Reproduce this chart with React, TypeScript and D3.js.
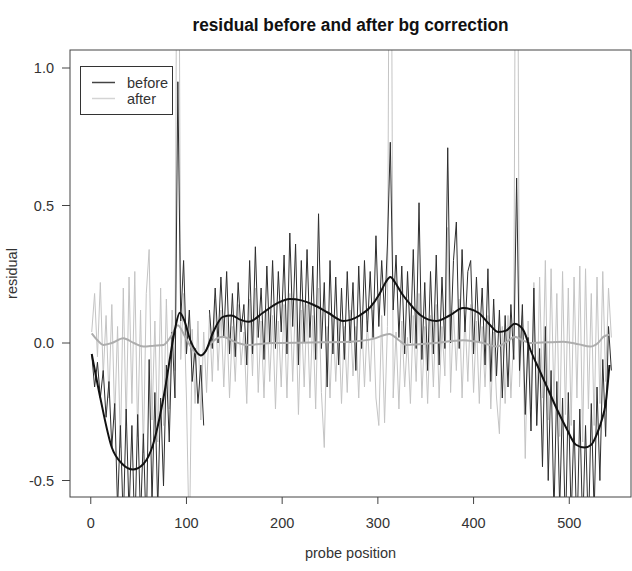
import React from "react";
import * as d3 from "d3";

const W = 632;
const H = 571;

const titleText = "residual before and after bg correction";
const xLabel = "probe position";
const yLabel = "residual";
const xTicks = [0, 100, 200, 300, 400, 500];
const yTicks = [-0.5, 0.0, 0.5, 1.0];
const yTickLabels = ["-0.5", "0.0", "0.5", "1.0"];
const legendLabels = ["before", "after"];

// probe positions sampled every 3rd probe: 1, 4, 7, ... 544
const probeStart = 1;
const probeStep = 3;

const before: (number | null)[] = [
  -0.04, -0.16, -0.07, -0.2, -0.1, -0.27, -0.14, -0.38, -0.22, -0.6,
  -0.3, -0.66, -0.24, -0.62, -0.3, -0.7, -0.26, -0.64, -0.33, -0.7,
  -0.06, -0.58, -0.18, -0.6, -0.2, -0.52, -0.08, -0.36, 0.04, -0.2,
  0.95, 0.08, 0.3, -0.04, 0.12, -0.14, -0.02, -0.22, -0.08, -0.3,
  null, 0.12, -0.02, 0.2, 0.0, 0.24, 0.02, 0.26, -0.04, 0.18,
  -0.05, 0.22, 0.04, 0.14, -0.08, 0.3, -0.04, 0.35, 0.02, 0.2,
  -0.06, 0.28, 0.0, 0.3, -0.02, 0.26, 0.04, 0.32, -0.04, 0.4,
  0.06, 0.36, -0.08, 0.3, 0.0, 0.34, 0.02, 0.28, -0.06, 0.47,
  -0.02, 0.22, -0.16, 0.3, -0.04, 0.24, -0.08, 0.2, -0.06, 0.26,
  0.0, 0.22, -0.1, 0.28, -0.02, 0.3, 0.04, 0.26, 0.02, 0.39,
  0.06, 0.3, 0.1, 0.36, 0.73, 0.12, 0.32, 0.02, 0.28, -0.04,
  0.26, 0.0, 0.34, -0.02, 0.51, -0.06, 0.22, -0.1, 0.26, -0.04,
  0.32, -0.08, 0.24, -0.02, 0.71, 0.0, 0.3, 0.44, -0.02, 0.34,
  0.04, 0.26, 0.3, -0.04, 0.24, 0.0, 0.2, -0.08, 0.27, -0.14,
  0.16, -0.12, 0.12, -0.2, 0.1, -0.16, 0.14, -0.06, 0.6, -0.1,
  0.14, -0.26, 0.02, -0.32, 0.2, -0.3, -0.02, -0.45, 0.06, -0.5,
  -0.1, -0.62, -0.14, -0.6, -0.2, -0.7, -0.18, -0.64, -0.28, -0.72,
  -0.24, -0.68, -0.3, -0.7, -0.22, -0.62, -0.16, -0.5, -0.06, -0.34,
  0.06, -0.1,
];

const after: number[] = [
  0.04, 0.18, -0.05, 0.22, -0.12, 0.1, -0.2, 0.14, -0.28, 0.06,
  -0.38, 0.2, -0.3, 0.24, -0.22, 0.26, -0.34, 0.12, -0.4, 0.18,
  0.34, -0.28, 0.08, -0.36, 0.2, -0.3, 0.16, -0.24, 0.12, -0.1,
  2.6, -0.06, 0.18, -0.2, -0.75, 0.05, -0.22, 0.08, -0.28, 0.04,
  -0.18, 0.1, -0.14, 0.16, -0.1, 0.12, -0.16, 0.1, -0.2, 0.06,
  -0.14, 0.14, -0.08, 0.04, -0.22, 0.16, -0.12, 0.2, -0.18, 0.08,
  -0.2, 0.12, -0.14, 0.1, -0.24, 0.08, -0.16, 0.14, -0.2, 0.18,
  -0.14, 0.16, -0.26, 0.12, -0.16, 0.14, -0.2, 0.1, -0.24, 0.2,
  -0.18, -0.38, 0.06, -0.2, 0.1, -0.14, 0.08, -0.22, 0.06, -0.18,
  0.12, -0.12, 0.06, -0.2, 0.1, -0.16, 0.08, -0.14, 0.12, -0.2,
  -0.3, 0.1, -0.29, 0.06, 2.6, -0.2, 0.04, -0.24, 0.08, -0.16,
  0.02, -0.22, 0.1, -0.14, 0.18, -0.2, 0.06, -0.22, 0.1, -0.16,
  0.14, -0.2, 0.06, -0.12, 0.42, -0.18, 0.12, -0.1, 0.16, -0.2,
  0.1, -0.14, 0.14, -0.18, 0.08, -0.22, 0.06, -0.16, 0.1, -0.24,
  0.04, -0.2, -0.33, 0.06, -0.22, 0.1, -0.2, 0.04, 2.6, -0.16,
  0.1, -0.42, 0.08, -0.24, 0.22, -0.3, 0.24, -0.2, 0.3, -0.28,
  0.27, -0.22, 0.18, -0.34, 0.26, -0.26, 0.2, -0.3, 0.24, -0.2,
  0.28, -0.36, 0.27, -0.24, 0.18, -0.3, 0.24, -0.22, 0.26, -0.14,
  0.2, 0.02,
];

const beforeSmoothX = [1, 10, 22, 33, 44, 55, 65, 72, 78, 83, 88, 93, 98, 104, 110, 115, 120, 128, 138, 147, 156, 165, 180, 195, 208, 220, 232, 248, 264, 272, 281, 292, 302, 308, 313, 318, 325, 334, 345, 361, 375, 389, 405, 416, 426, 434, 443, 452, 460, 469, 478, 487, 497, 507, 516, 523, 529, 534, 538, 542];
const beforeSmoothY = [-0.04, -0.2, -0.38, -0.44, -0.46, -0.44, -0.37, -0.27, -0.16, -0.05, 0.05, 0.11, 0.08, 0.01, -0.03, -0.045, -0.03, 0.04, 0.095, 0.1, 0.085, 0.077, 0.11, 0.145, 0.16, 0.155, 0.14, 0.11, 0.08, 0.085, 0.1, 0.13, 0.18, 0.22, 0.24, 0.22, 0.18, 0.14, 0.1, 0.08, 0.1, 0.127, 0.11, 0.07, 0.04, 0.045, 0.07, 0.047, -0.03, -0.1, -0.17, -0.24, -0.31, -0.37, -0.38, -0.37, -0.33, -0.28, -0.22, -0.08];

const afterSmoothX = [1, 7, 13, 22, 34, 45, 55, 66, 76, 84, 91, 99, 107, 116, 124, 131, 138, 150, 163, 190, 230, 271, 295, 312, 322, 330, 360, 389, 410, 424, 435, 443, 451, 459, 494, 510, 522, 530, 536, 542];
const afterSmoothY = [0.035, 0.01, -0.007, 0.0, 0.017, 0.0, -0.013, -0.01, -0.007, 0.025, 0.065, 0.02, -0.025, -0.045, -0.007, 0.015, 0.023, 0.005, -0.007, 0.0, 0.002, 0.005, 0.015, 0.033, 0.01, -0.007, 0.0, 0.01, 0.0, -0.013, 0.005, 0.023, 0.01, 0.0, 0.005, -0.005, -0.013, 0.0, 0.023, 0.03];

const M = { left: 70, right: 631, top: 50, bottom: 497 };
const FONT = "Liberation Sans, Arial, sans-serif";

export default function App() {
  const x = d3.scaleLinear().domain([-21.7, 564.5]).range([M.left, M.right]);
  const y = d3.scaleLinear().domain([-0.56, 1.0655]).range([M.bottom, M.top]);

  const probeAt = (i: number) => probeStart + probeStep * i;

  const rawLine = d3
    .line<number | null>()
    .defined((d) => d !== null)
    .x((_, i) => x(probeAt(i)))
    .y((d) => y(d as number));

  const smoothLine = d3
    .line<[number, number]>()
    .x((d) => x(d[0]))
    .y((d) => y(d[1]))
    .curve(d3.curveMonotoneX);

  const bs: [number, number][] = beforeSmoothX.map((v, i) => [v, beforeSmoothY[i]]);
  const as: [number, number][] = afterSmoothX.map((v, i) => [v, afterSmoothY[i]]);

  const cx = (M.left + M.right) / 2;
  const cy = (M.top + M.bottom) / 2;

  return (
    <svg
      width={W}
      height={H}
      style={{ position: "absolute", left: 0, top: 0, background: "#fff" }}
      fontFamily={FONT}
    >
      <defs>
        <clipPath id="plotclip">
          <rect x={M.left} y={M.top} width={M.right - M.left} height={M.bottom - M.top} />
        </clipPath>
      </defs>
      <rect width={W} height={H} fill="#fff" />
      <text
        x={cx}
        y={31}
        textAnchor="middle"
        fontSize={18}
        fontWeight="bold"
        fill="#111"
        textLength={316}
        lengthAdjust="spacingAndGlyphs"
      >
        {titleText}
      </text>

      <g clipPath="url(#plotclip)">
        <path d={rawLine(after) || ""} fill="none" stroke="#c4c4c4" strokeWidth={1} />
        <path d={rawLine(before) || ""} fill="none" stroke="#2e2e2e" strokeWidth={1} />
        <path d={smoothLine(as) || ""} fill="none" stroke="#adadad" strokeWidth={2} />
        <path d={smoothLine(bs) || ""} fill="none" stroke="#111" strokeWidth={2} />
      </g>

      <rect
        x={M.left}
        y={M.top}
        width={M.right - M.left}
        height={M.bottom - M.top}
        fill="none"
        stroke="#444"
        strokeWidth={1}
      />

      {xTicks.map((t) => (
        <g key={"x" + t}>
          <line x1={x(t)} x2={x(t)} y1={M.bottom} y2={M.bottom + 7} stroke="#444" />
          <text x={x(t)} y={528} textAnchor="middle" fontSize={14.5} fill="#333">
            {String(t)}
          </text>
        </g>
      ))}
      {yTicks.map((t, i) => (
        <g key={"y" + t}>
          <line x1={M.left - 8} x2={M.left} y1={y(t)} y2={y(t)} stroke="#444" />
          <text x={54} y={y(t) + 5} textAnchor="end" fontSize={14.5} fill="#333">
            {yTickLabels[i]}
          </text>
        </g>
      ))}

      <text x={cx} y={558} textAnchor="middle" fontSize={14.5} fill="#333">
        {xLabel}
      </text>
      <text
        x={0}
        y={0}
        transform={`translate(17, ${cy}) rotate(-90)`}
        textAnchor="middle"
        fontSize={14.5}
        fill="#333"
      >
        {yLabel}
      </text>

      <g>
        <rect x={80.5} y={66.5} width={92} height={48} fill="#fff" stroke="#333" strokeWidth={1} />
        <line x1={92} x2={115} y1={82.5} y2={82.5} stroke="#444" strokeWidth={1.5} />
        <line x1={92} x2={115} y1={98.5} y2={98.5} stroke="#d4d4d4" strokeWidth={1.5} />
        <text x={127} y={88} fontSize={14.5} fill="#333">{legendLabels[0]}</text>
        <text x={127} y={104} fontSize={14.5} fill="#333">{legendLabels[1]}</text>
      </g>
    </svg>
  );
}
